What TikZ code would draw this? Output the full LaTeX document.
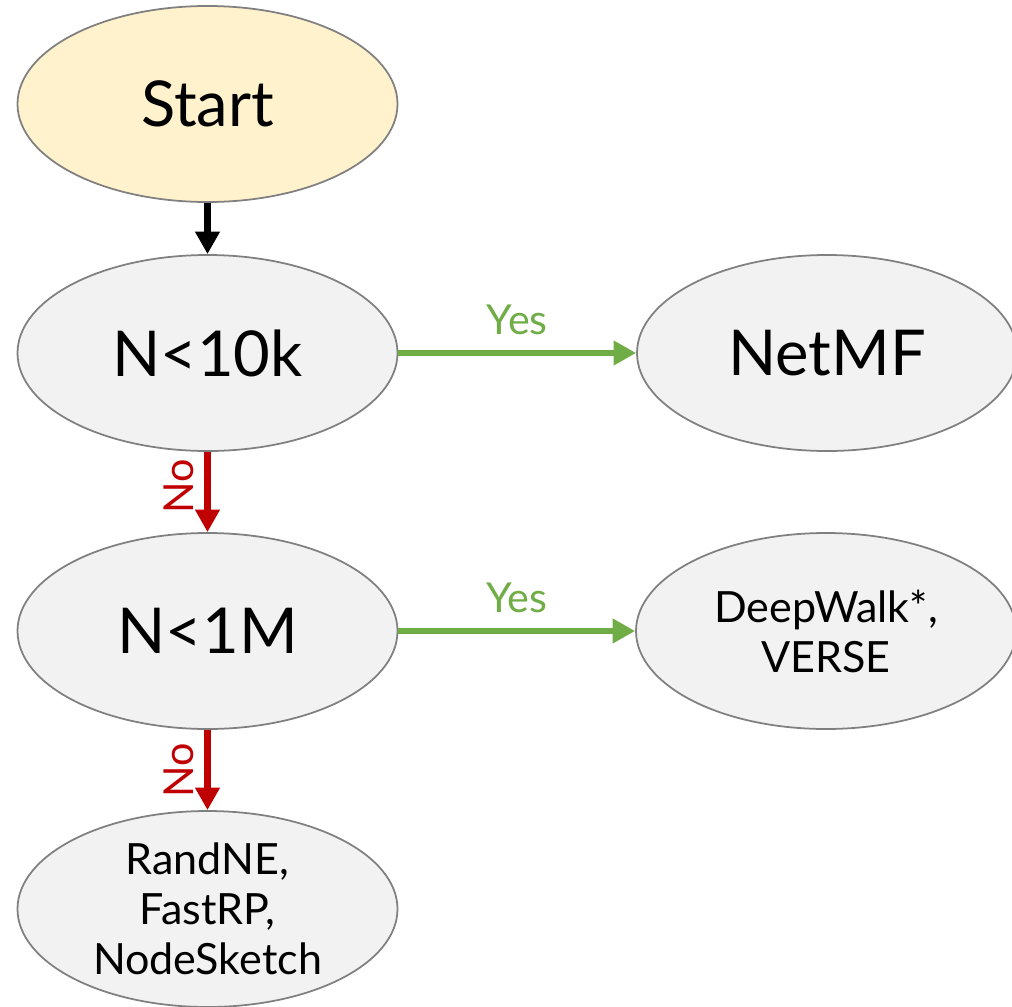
\documentclass[tikz,border=0pt]{standalone}
\usepackage{fontspec}
\setmainfont{Lato}
\usetikzlibrary{shapes.geometric,arrows.meta}
\definecolor{ansgreen}{HTML}{70AD47}
\definecolor{ansred}{HTML}{C00000}
\definecolor{edgegray}{HTML}{808080}
\definecolor{startfill}{HTML}{FFF2CC}
\definecolor{boxfill}{HTML}{F2F2F2}
\tikzset{
  choice/.style={ellipse,draw=edgegray,line width=1pt,fill=boxfill,inner sep=0pt,
    minimum width=7.6cm,minimum height=3.92cm,align=center,
    font=\fontsize{36}{43}\selectfont},
  small/.style={font=\fontsize{24.5}{28.5}\selectfont},
  flow/.style={line width=3.8pt,-{Triangle[length=0.45cm,width=0.47cm]}},
  answer/.style={font=\fontsize{23.5}{28}\selectfont},
  noanswer/.style={answer,rotate=90,anchor=south,outer sep=4.5pt}
}
\begin{document}
\begin{tikzpicture}
\useasboundingbox (0,0) rectangle (20.24,-20.12);
\node[choice,fill=startfill] (start) at (4.15,-2.08) {Start};
\node[choice] (n10k) at (4.15,-7.06) {N<10k};
\node[choice] (netmf) at (16.54,-7.06) {NetMF};
\node[choice] (n1m) at (4.15,-12.62) {N<1M};
\node[choice,small] (deepwalk) at (16.52,-12.62) {DeepWalk*,\\VERSE};
\node[choice,small] (randne) at (4.15,-18.18) {RandNE,\\FastRP,\\NodeSketch};
\draw[flow,black] (start) -- (n10k);
\draw[flow,ansgreen] (n10k) -- node[answer,above=5pt] (yes1) {Yes} (netmf);
\draw[flow,ansred] (n10k) -- node[noanswer,pos=0.43] (no1) {No} (n1m);
\draw[flow,ansgreen] (n1m) -- node[answer,above=5pt] (yes2) {Yes} (deepwalk);
\draw[flow,ansred] (n1m) -- node[noanswer] (no2) {No} (randne);
\end{tikzpicture}
\end{document}
